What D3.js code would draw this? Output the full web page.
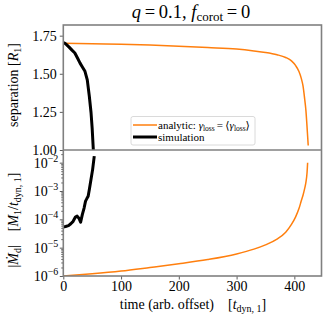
<!DOCTYPE html>
<html><head><meta charset="utf-8">
<script src="https://cdn.jsdelivr.net/npm/d3@7"></script>
<style>
html,body{margin:0;padding:0;background:#fff;}
svg text{font-family:"Liberation Serif","Times New Roman","DejaVu Serif",serif;}
</style></head>
<body><svg id="c" width="332" height="322" font-family="Liberation Serif, DejaVu Serif, serif"></svg>
<script>
// ---- data ----
const timeAnalytic = [0, 50, 100, 150, 200, 250, 300, 330, 350, 370, 385, 395, 402, 408, 412, 415, 418, 420, 422, 423, 424];
const sepAnalytic  = [1.700, 1.697, 1.693, 1.688, 1.681, 1.672, 1.662, 1.650, 1.640, 1.625, 1.607, 1.585, 1.555, 1.515, 1.47, 1.42, 1.33, 1.26, 1.15, 1.09, 1.03];
const mdotTimeAnalytic = [0, 50, 100, 150, 200, 250, 300, 330, 350, 370, 385, 395, 402, 408, 412, 415, 418, 420, 422, 423];
const mdotAnalytic = [1.0e-6, 1.2e-6, 1.5e-6, 2.0e-6, 2.7e-6, 3.8e-6, 6.0e-6, 8.9e-6, 1.26e-5, 2.0e-5, 3.5e-5, 6.6e-5, 1.2e-4, 2.4e-4, 4.5e-4, 7.1e-4, 1.26e-3, 2.0e-3, 4.5e-3, 1.0e-2];
const timeSim = [0, 3, 6, 10, 15, 20, 25, 29, 33, 37.5, 41.5, 45, 48, 50, 52];
const sepSim  = [1.705, 1.700, 1.690, 1.675, 1.655, 1.636, 1.600, 1.570, 1.545, 1.516, 1.46, 1.354, 1.246, 1.14, 1.0];
const mdotTimeSim = [0, 4, 9, 13, 17, 21, 24, 27, 30, 33, 36, 38.5, 41, 43, 45, 48, 50.8, 53.6];
const mdotSim = [5.4e-5, 5.6e-5, 6.0e-5, 7.0e-5, 8.5e-5, 1.2e-4, 1.3e-4, 1.1e-4, 8.0e-5, 1.5e-4, 2.5e-4, 4.4e-4, 5.5e-4, 6.5e-4, 1.1e-3, 2.6e-3, 5.8e-3, 1.7e-2];
const xTicks = [0, 100, 200, 300, 400];
const sepTicks = [1.00, 1.25, 1.50, 1.75];
const mdotTickExps = [-6, -5, -4, -3, -2];

// ---- layout ----
const FONT = "Liberation Serif, DejaVu Serif, serif";
const L = 63.3, R = 321.5, T = 25, M = 150, B = 276;
const svg = d3.select("#c");
const x = d3.scaleLinear().domain([0, 447]).range([L, R]);
const yTop = d3.scaleLinear().domain([1.0, 1.82]).range([M, T]);
const yBot = d3.scaleLog().domain([1e-6, 0.028]).range([B, M]);
const orange = "#ff7f0e", frame = "#808080";

function clip(id, y0, y1) {
  svg.append("clipPath").attr("id", id).append("rect")
    .attr("x", L).attr("y", y0).attr("width", R - L).attr("height", y1 - y0);
}
clip("cTop", T, M); clip("cBot", M, B);

const lineTop = d3.line().x(d => x(d[0])).y(d => yTop(d[1]));
const lineBot = d3.line().x(d => x(d[0])).y(d => yBot(d[1]));
const lineTopS = d3.line().curve(d3.curveMonotoneX).x(d => x(d[0])).y(d => yTop(d[1]));
const lineBotS = d3.line().curve(d3.curveMonotoneX).x(d => x(d[0])).y(d => yBot(d[1]));

// top panel curves
svg.append("path").datum(d3.zip(timeAnalytic, sepAnalytic)).attr("d", lineTopS)
  .attr("fill", "none").attr("stroke", orange).attr("stroke-width", 1.5).attr("clip-path", "url(#cTop)");
svg.append("path").datum(d3.zip(timeSim, sepSim)).attr("d", lineTop)
  .attr("fill", "none").attr("stroke", "#000").attr("stroke-width", 3).attr("stroke-linejoin", "round").attr("clip-path", "url(#cTop)");
// bottom panel curves
svg.append("path").datum(d3.zip(mdotTimeAnalytic, mdotAnalytic)).attr("d", lineBotS)
  .attr("fill", "none").attr("stroke", orange).attr("stroke-width", 1.5).attr("clip-path", "url(#cBot)");
svg.append("path").datum(d3.zip(mdotTimeSim, mdotSim)).attr("d", lineBot)
  .attr("fill", "none").attr("stroke", "#000").attr("stroke-width", 3).attr("stroke-linejoin", "round").attr("clip-path", "url(#cBot)");

// axes
const axTop = svg.append("g").attr("transform", `translate(${L},0)`)
  .call(d3.axisLeft(yTop).tickValues(sepTicks).tickFormat(d3.format(".2f")).tickSize(3.5).tickPadding(3));
const axBot = svg.append("g").attr("transform", `translate(${L},0)`)
  .call(d3.axisLeft(yBot).tickValues(mdotTickExps.map(e => Math.pow(10, e))).tickFormat("").tickSize(3.5));
const minor = [];
for (let e = -6; e <= -2; e++) for (let k = 2; k <= 9; k++) { const v = k * Math.pow(10, e); if (v <= 0.028) minor.push(v); }
const axMinor = svg.append("g").attr("transform", `translate(${L},0)`)
  .call(d3.axisLeft(yBot).tickValues(minor).tickFormat("").tickSize(2));
const axX = svg.append("g").attr("transform", `translate(0,${B})`)
  .call(d3.axisBottom(x).tickValues(xTicks).tickFormat(d3.format("d")).tickSize(3.5).tickPadding(2));

[axTop, axBot, axMinor, axX].forEach(g => {
  g.attr("font-family", FONT).attr("font-size", 14);
  g.select(".domain").remove();
  g.selectAll(".tick line").attr("stroke", "#333").attr("stroke-width", 0.8);
  g.selectAll("text").attr("fill", "#000");
});

// log tick labels with superscripts
mdotTickExps.forEach(e => {
  const t = svg.append("text").attr("x", L - 5).attr("y", yBot(Math.pow(10, e)) + 5)
    .attr("text-anchor", "end").attr("font-size", 14).attr("font-family", FONT);
  t.append("tspan").text("10");
  t.append("tspan").attr("font-size", 10).attr("dy", -6).text("\u2212" + Math.abs(e));
});

// frames
svg.append("rect").attr("x", L).attr("y", T).attr("width", R - L).attr("height", B - T)
  .attr("fill", "none").attr("stroke", frame).attr("stroke-width", 1.6);
svg.append("line").attr("x1", L).attr("x2", R).attr("y1", M).attr("y2", M)
  .attr("stroke", frame).attr("stroke-width", 1.6);

// legend
const lg = svg.append("g").attr("font-family", FONT);
lg.append("rect").attr("x", 131).attr("y", 116.5).attr("width", 124).attr("height", 28.5).attr("rx", 2)
  .attr("fill", "#fff").attr("fill-opacity", 0.8).attr("stroke", "#d0d0d0").attr("stroke-width", 0.8);
lg.append("line").attr("x1", 133).attr("x2", 157).attr("y1", 125).attr("y2", 125).attr("stroke", orange).attr("stroke-width", 1.5);
lg.append("line").attr("x1", 133).attr("x2", 157).attr("y1", 137).attr("y2", 137).attr("stroke", "#000").attr("stroke-width", 3);
const lt = lg.append("text").attr("x", 158).attr("y", 129).attr("font-size", 11);
lt.append("tspan").text("analytic: ");
lt.append("tspan").attr("font-style", "italic").text("\u03b3");
lt.append("tspan").attr("font-size", 7.5).attr("dy", 2).text("loss");
lt.append("tspan").attr("dy", -2).text("\u2009=\u2009\u27e8");
lt.append("tspan").attr("font-style", "italic").text("\u03b3");
lt.append("tspan").attr("font-size", 7.5).attr("dy", 2).text("loss");
lt.append("tspan").attr("dy", -2).text("\u27e9");
lg.append("text").attr("x", 158).attr("y", 141).attr("font-size", 11).text("simulation");

// title
const tt = svg.append("text").attr("x", 191).attr("y", 18).attr("text-anchor", "middle").attr("font-size", 18.5).attr("font-family", FONT);
tt.append("tspan").attr("font-style", "italic").text("q");
tt.append("tspan").text("\u2009=\u20090.1, ");
tt.append("tspan").attr("font-style", "italic").text("f");
tt.append("tspan").attr("font-size", 13).attr("dy", 3).text("corot");
tt.append("tspan").attr("dy", -3).text("\u2009=\u20090");

// y labels
const yl1 = svg.append("text").attr("transform", `translate(18,85) rotate(-90)`)
  .attr("text-anchor", "middle").attr("font-size", 14).attr("font-family", FONT);
yl1.append("tspan").text("separation [");
yl1.append("tspan").attr("font-style", "italic").text("R");
yl1.append("tspan").attr("font-size", 10).attr("dy", 3).text("1");
yl1.append("tspan").attr("dy", -3).text("]");

const yl2 = svg.append("text").attr("transform", `translate(18,220) rotate(-90)`)
  .attr("text-anchor", "middle").attr("font-size", 14).attr("font-family", FONT);
yl2.append("tspan").text("|");
yl2.append("tspan").attr("font-style", "italic").text("\u1e40");
yl2.append("tspan").attr("font-size", 10).attr("dy", 3).text("d");
yl2.append("tspan").attr("dy", -3).text("|\u2003[");
yl2.append("tspan").attr("font-style", "italic").text("M");
yl2.append("tspan").attr("font-size", 10).attr("dy", 3).text("1");
yl2.append("tspan").attr("dy", -3).text("/");
yl2.append("tspan").attr("font-style", "italic").text("t");
yl2.append("tspan").attr("font-size", 10).attr("dy", 3).text("dyn, 1");
yl2.append("tspan").attr("dy", -3).text("]");

// x label
const xl = svg.append("text").attr("x", 193).attr("y", 309).attr("text-anchor", "middle").attr("font-size", 14).attr("font-family", FONT);
xl.append("tspan").text("time (arb. offset)\u2003[");
xl.append("tspan").attr("font-style", "italic").text("t");
xl.append("tspan").attr("font-size", 10).attr("dy", 3).text("dyn, 1");
xl.append("tspan").attr("dy", -3).text("]");
</script>
</body></html>
